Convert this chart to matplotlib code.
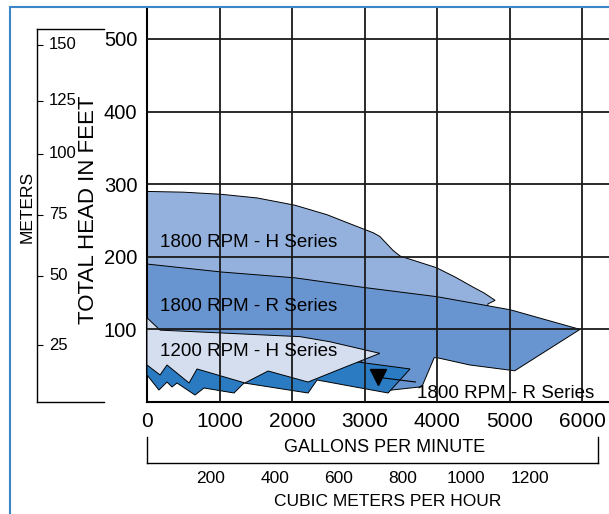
import matplotlib
matplotlib.use("Agg")
import matplotlib.pyplot as plt
from matplotlib.patches import Polygon, Rectangle
from matplotlib.transforms import blended_transform_factory

plt.rcParams['font.family'] = ['Liberation Sans', 'DejaVu Sans']

# Courbes de performance (debit en gpm, hauteur en pieds)
h1800_gpm = [0, 500, 1030, 1520, 2040, 2480, 2760, 3120, 3210, 3390, 3490,
             3990, 4250, 4500, 4650, 4800, 4700, 4700, 0]
h1800_ft = [290, 289, 286, 281, 271, 258, 247, 233, 228, 209, 201,
            185, 172, 158, 150, 140, 135, 120, 150]

r1800_gpm = [0, 1030, 2040, 2970, 4000, 5010, 5970, 5070, 4450, 4000, 3960, 3790, 3330, 3150, 2900, 0]
r1800_ft = [190, 179, 171, 158, 145, 127, 100, 43, 51, 61, 61, 21, 16, 40, 60, 100]

h1200_gpm = [0, 180, 2110, 2520, 3210, 2730, 2220, 1670, 1350, 690, 580, 276, 180, 0]
h1200_ft = [116, 99, 90, 83, 67, 48, 27.5, 42.7, 26.2, 45.5, 26.2, 51, 37.2, 51]

r_low_gpm = [0, 165, 276, 345, 414, 662, 786, 1200, 1338, 2221, 2345, 3324, 3627, 2910, 2500, 1700, 700, 0]
r_low_ft = [37.2, 16.5, 27.5, 20.7, 26.2, 9.6, 19.3, 12.4, 26.2, 12.4, 30.3, 12.4, 45.5, 55, 55, 52, 55, 60]

labels = ["1800 RPM - H Series", "1800 RPM - R Series", "1200 RPM - H Series"]
label_pos = [(180, 220), (180, 131), (180, 69)]
low_label = "1800 RPM - R Series"
low_marker = (3186, 34)
low_text = (3723, 12)

gpm_ticks = [0, 1000, 2000, 3000, 4000, 5000, 6000]
ft_ticks = [100, 200, 300, 400, 500]
m3h_ticks = [200, 400, 600, 800, 1000, 1200]
GPM_PER_M3H = 4.403
meter_ticks = [25, 50, 75, 100, 125, 150]
meter_tick_ft = [78, 174, 258, 342, 415, 492]  # positions

W, H = 609, 514
fig = plt.figure(figsize=(W / 100, H / 100), dpi=100)

ax = fig.add_axes([147 / W, 112 / H, 462 / W, 395 / H])
ax.set_xlim(0, 6370)
ax.set_ylim(0, 544)

couches = [
    (h1800_gpm, h1800_ft, '#93b1dc', 1),
    (r1800_gpm, r1800_ft, '#6895cf', 2),
    (r_low_gpm, r_low_ft, '#2b7bc3', 3),
    (h1200_gpm, h1200_ft, '#d4deef', 4),
]
for xs, ys, col, z in couches:
    ax.add_patch(Polygon(list(zip(xs, ys)), closed=True, facecolor=col,
                         edgecolor='black', lw=0.7, zorder=z))

for x in gpm_ticks[1:]:
    ax.axvline(x, color='#1a1a1a', lw=1.3, zorder=5)
for y in ft_ticks:
    ax.axhline(y, color='#1a1a1a', lw=1.3, zorder=5)

for txt, (x, y) in zip(labels, label_pos):
    ax.text(x, y, txt, fontsize=13.5, ha='left', va='center', zorder=6)

ax.plot(*low_marker, marker='v', color='black', ms=12, zorder=7)
ax.annotate(low_label, xy=low_marker, xytext=low_text,
            fontsize=13.5, ha='left', va='center', zorder=7,
            arrowprops=dict(arrowstyle='-', color='black', lw=0.8,
                            shrinkA=0, shrinkB=2))

ax.spines['top'].set_visible(False)
ax.spines['right'].set_visible(False)
ax.spines['left'].set_linewidth(1.5)
ax.spines['bottom'].set_linewidth(1.5)
ax.set_xticks(gpm_ticks)
ax.set_xticklabels([str(v) for v in gpm_ticks])
ax.set_yticks(ft_ticks)
ax.set_yticklabels([str(v) for v in ft_ticks])
ax.tick_params(axis='both', length=0)
ax.tick_params(axis='x', pad=7, labelsize=15)
ax.tick_params(axis='y', pad=7, labelsize=14.5)

# Echelle metres cubes par heure
axm = fig.add_axes([147 / W, 51 / H, 451 / W, 26 / H])
axm.set_xlim(0, 6220 / GPM_PER_M3H)
axm.set_ylim(0, 1)
axm.patch.set_alpha(0)
axm.spines['top'].set_visible(False)
axm.set_yticks([])
axm.set_xticks(m3h_ticks)
axm.set_xticklabels([str(v) for v in m3h_ticks])
axm.tick_params(axis='x', length=0, labelsize=12.5, pad=6)
for s in axm.spines.values():
    s.set_linewidth(1.0)

# Echelle en metres
axt = fig.add_axes([37 / W, 112 / H, 67 / W, 373 / H])
axt.set_xlim(0, 1)
axt.set_ylim(0, 513.8)
axt.patch.set_alpha(0)
axt.spines['right'].set_visible(False)
axt.set_xticks([])
axt.set_yticks(meter_tick_ft)
axt.set_yticklabels([])
axt.tick_params(axis='y', direction='in', length=4)
trans = blended_transform_factory(axt.transAxes, axt.transData)
for v, p in zip(meter_ticks, meter_tick_ft):
    axt.text(0.18, p, str(v), transform=trans, fontsize=12, ha='left', va='center')
for s in axt.spines.values():
    s.set_linewidth(1.0)

fig.text(27 / W, 1 - 207 / H, "METERS", rotation=90, fontsize=12.5, ha='center', va='center')
fig.text(88 / W, 1 - 210 / H, "TOTAL HEAD IN FEET", rotation=90, fontsize=16, ha='center', va='center')
fig.text(385 / W, 1 - 448 / H, "GALLONS PER MINUTE", fontsize=13, ha='center', va='center')
fig.text(388 / W, 1 - 502 / H, "CUBIC METERS PER HOUR", fontsize=12.5, ha='center', va='center')

# Cadre bleu
fig.add_artist(Rectangle((10 / W, -0.05), 1.0, 1 - 7 / H + 0.05, transform=fig.transFigure,
                         fill=False, edgecolor='#3a86c6', lw=1.5))

plt.savefig("out.png", dpi=100)
